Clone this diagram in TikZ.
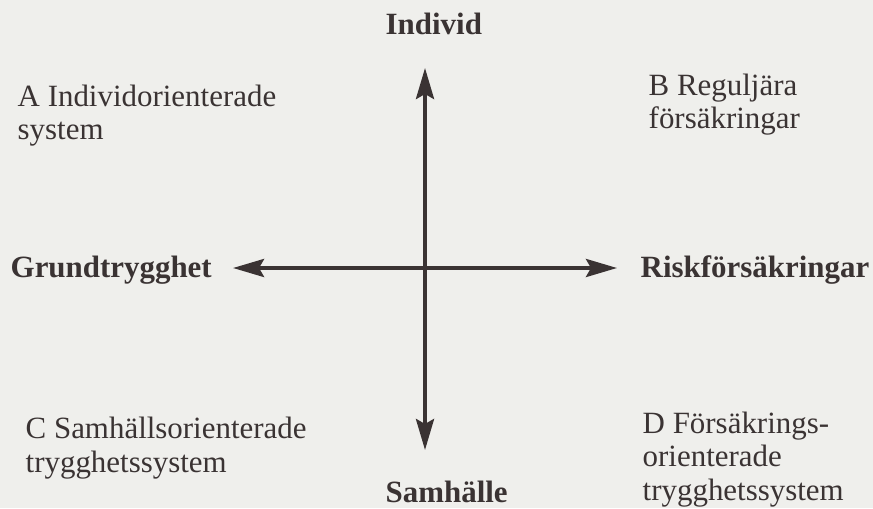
\documentclass[tikz,border=0pt]{standalone}
\usepackage{fontspec}
\setmainfont{Liberation Serif}
\usetikzlibrary{arrows.meta}
\definecolor{paper}{HTML}{EFEFEC}
\definecolor{ink}{HTML}{3A3333}
\begin{document}
\begin{tikzpicture}[
        axislabel/.style={
            font=\fontsize{8.8}{9.4}\selectfont\bfseries,
            text=ink,
            inner sep=0pt,
            anchor=base west
        },
        fieldlabel/.style={
            font=\fontsize{8.8}{9.4}\selectfont,
            text=ink,
            align=left,
            inner sep=0pt,
            anchor=base west
        },
        axis/.style={
            {Stealth[length=3.1mm,width=1.8mm,inset=0.5mm]}-{Stealth[length=3.1mm,width=1.8mm,inset=0.5mm]},
            draw=ink,
            line width=1.1pt
        }
    ]

        \useasboundingbox (0,0) rectangle (8.73,5.08);
        \fill[paper] (0,0) rectangle (8.73,5.08);

        \coordinate (top) at (4.25,4.40);
        \coordinate (bottom) at (4.25,0.58);
        \coordinate (left) at (2.33,2.40);
        \coordinate (right) at (6.17,2.40);

        \node[axislabel] (individ) at (3.85,4.73) {Individ};
        \node[axislabel] (samhalle) at (3.85,0.06) {Samhälle};
        \node[axislabel] (grund) at (0.10,2.31) {Grundtrygghet};
        \node[axislabel] (risk) at (6.40,2.31) {Riskförsäkringar};

        % base anchor sits on the last line
        \node[fieldlabel] (fieldA) at (0.17,3.68) {A Individorienterade\\system};
        \node[fieldlabel] (fieldB) at (6.48,3.79) {B Reguljära\\försäkringar};
        \node[fieldlabel] (fieldC) at (0.25,0.36) {C Samhällsorienterade\\trygghetssystem};
        \node[fieldlabel] (fieldD) at (6.42,0.08) {D Försäkrings-\\orienterade\\trygghetssystem};

        \draw[axis] (bottom) -- (top);
        \draw[axis] (left) -- (right);

    \end{tikzpicture}
\end{document}
